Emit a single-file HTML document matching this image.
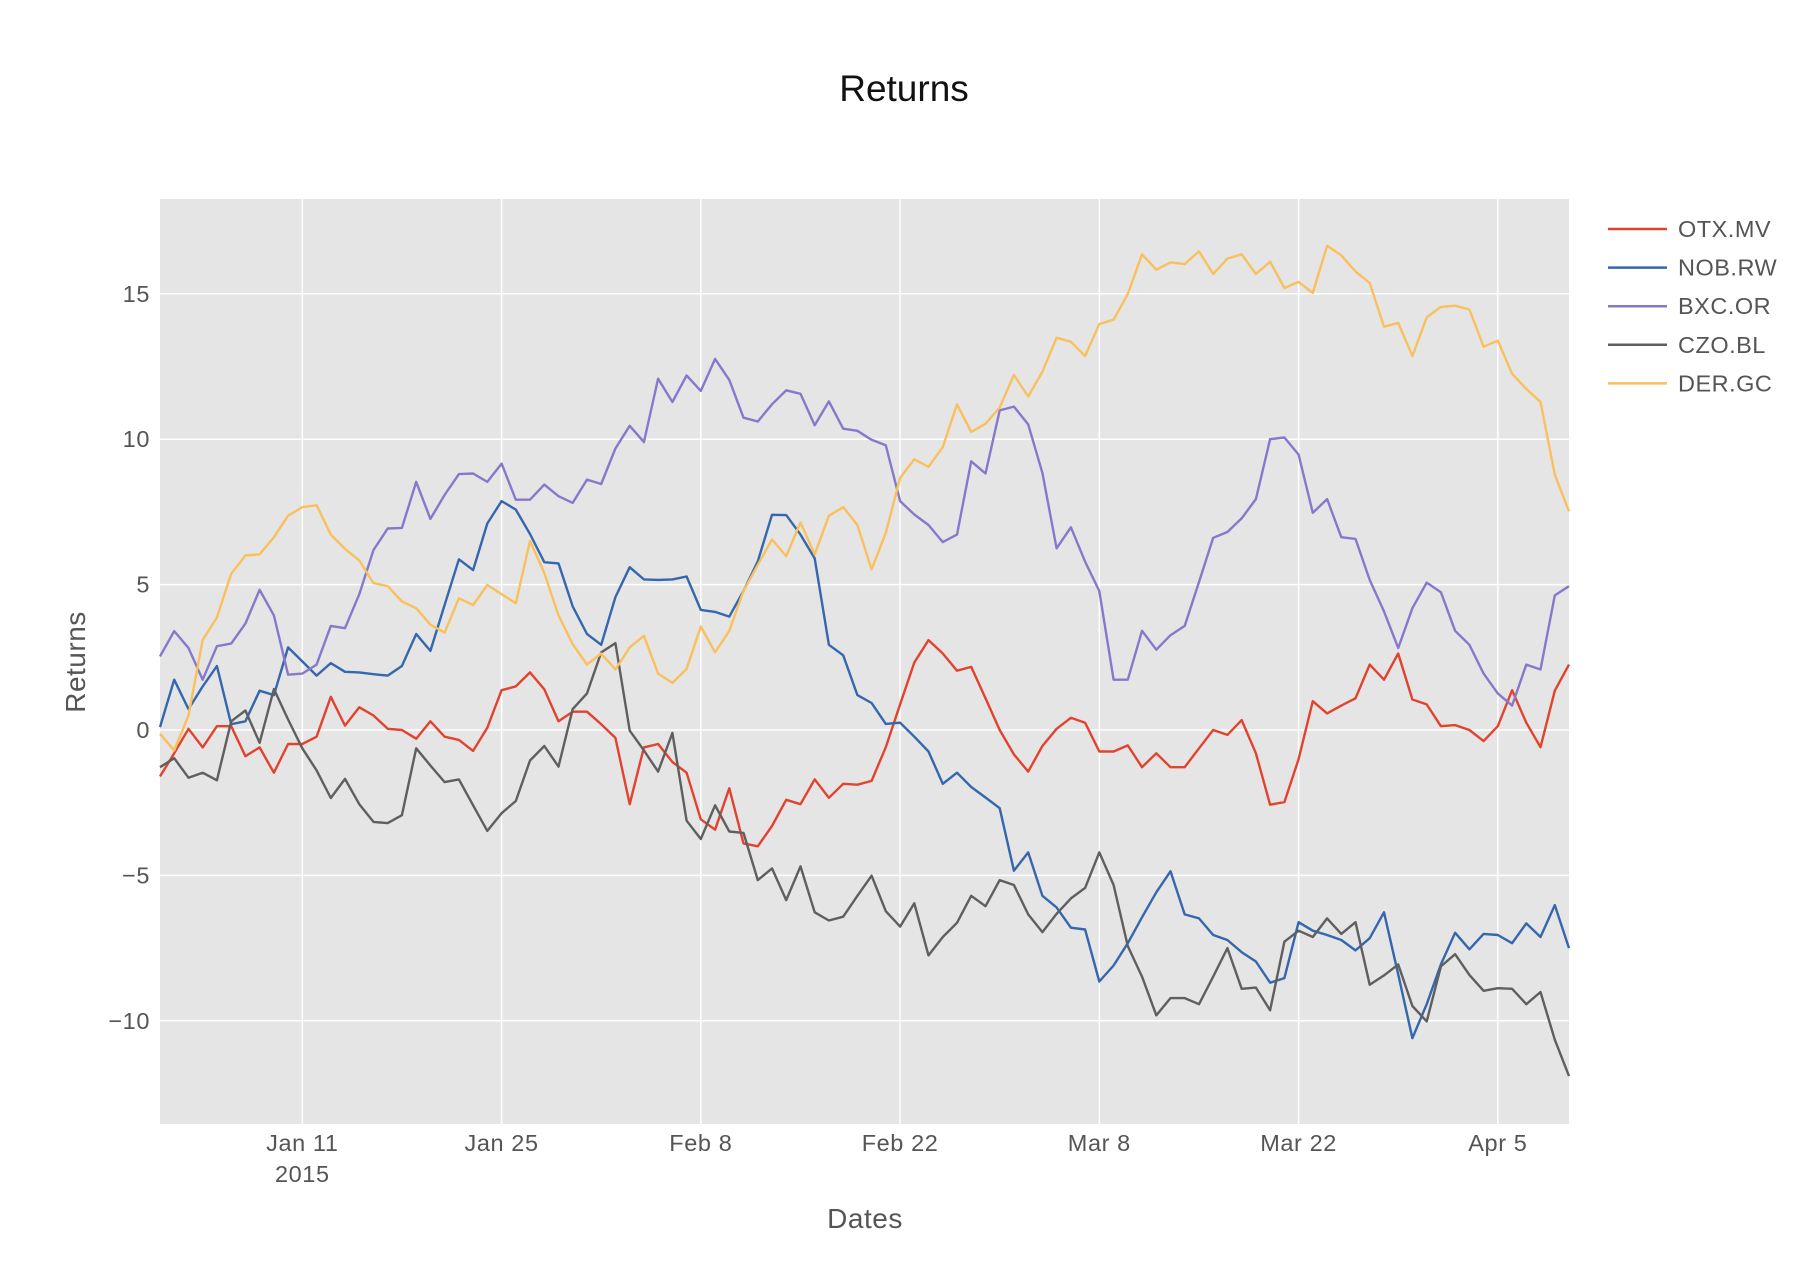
<!DOCTYPE html>
<html><head><meta charset="utf-8"><style>
html,body{margin:0;padding:0;background:#fff;}
svg{display:block;font-family:"Liberation Sans",sans-serif;}
</style></head><body>
<svg id="chart" width="1810" height="1284" viewBox="0 0 1810 1284" xmlns="http://www.w3.org/2000/svg">
<rect x="0" y="0" width="1810" height="1284" fill="#fff"/>
<text x="904" y="101" text-anchor="middle" font-size="37" fill="#111">Returns</text>
<rect x="160" y="199" width="1409" height="925" fill="#e5e5e5"/>
<g id="grid"></g>
<g id="series"></g>
<g id="axes"></g>
<text x="865" y="1228" text-anchor="middle" font-size="28" letter-spacing="0.5" fill="#555">Dates</text>
<text x="0" y="0" transform="translate(85,662) rotate(-90)" text-anchor="middle" font-size="28" letter-spacing="0.5" fill="#555">Returns</text>
<g id="legend"></g>
</svg>
<script>
const seriesNames = ["OTX.MV","NOB.RW","BXC.OR","CZO.BL","DER.GC"];
const seriesColors = ["#E1432F","#3467AD","#8679CB","#5f5f5f","#F9C05E"];
const yTicks = [-10,-5,0,5,10,15];
const yTickLabels = ["\u221210","\u22125","0","5","10","15"];
const xTickDays = [10,24,38,52,66,80,94];
const xTickLabels = ["Jan 11","Jan 25","Feb 8","Feb 22","Mar 8","Mar 22","Apr 5"];
const otx = [-1.6,-0.8,0.04,-0.6,0.13,0.13,-0.9,-0.6,-1.47,-0.48,-0.48,-0.23,1.14,0.15,0.78,0.5,0.04,0,-0.3,0.3,-0.23,-0.34,-0.72,0.08,1.37,1.5,1.98,1.4,0.3,0.63,0.63,0.2,-0.27,-2.55,-0.6,-0.48,-1.1,-1.47,-3.07,-3.43,-2.0,-3.9,-4.0,-3.3,-2.4,-2.55,-1.7,-2.33,-1.85,-1.88,-1.75,-0.59,0.88,2.32,3.09,2.63,2.04,2.17,1.09,0,-0.84,-1.43,-0.55,0.04,0.42,0.25,-0.74,-0.74,-0.53,-1.28,-0.8,-1.28,-1.28,-0.63,0,-0.17,0.34,-0.8,-2.57,-2.48,-1.0,0.99,0.57,0.84,1.09,2.25,1.73,2.63,1.05,0.88,0.13,0.17,0,-0.38,0.13,1.37,0.25,-0.59,1.35,2.25];
const nob = [0.1,1.73,0.72,1.5,2.2,0.2,0.3,1.35,1.2,2.84,2.36,1.87,2.3,2.0,1.98,1.92,1.87,2.2,3.3,2.72,4.3,5.87,5.5,7.1,7.87,7.58,6.74,5.77,5.73,4.25,3.3,2.93,4.57,5.6,5.18,5.16,5.18,5.28,4.13,4.06,3.9,4.78,5.8,7.4,7.39,6.72,5.9,2.93,2.57,1.2,0.93,0.21,0.25,-0.23,-0.74,-1.85,-1.47,-1.96,-2.32,-2.69,-4.84,-4.21,-5.7,-6.1,-6.8,-6.86,-8.65,-8.1,-7.33,-6.44,-5.58,-4.86,-6.34,-6.48,-7.05,-7.22,-7.64,-7.96,-8.69,-8.53,-6.61,-6.9,-7.05,-7.22,-7.58,-7.16,-6.27,-8.4,-10.6,-9.43,-8.06,-6.97,-7.54,-7.01,-7.05,-7.33,-6.65,-7.12,-6.02,-7.5];
const bxc = [2.53,3.4,2.82,1.73,2.88,2.97,3.66,4.82,3.94,1.9,1.94,2.25,3.58,3.5,4.67,6.19,6.93,6.95,8.53,7.26,8.08,8.8,8.82,8.53,9.16,7.92,7.92,8.44,8.04,7.81,8.61,8.46,9.68,10.46,9.9,12.08,11.28,12.19,11.66,12.76,12.04,10.74,10.61,11.2,11.68,11.56,10.48,11.3,10.36,10.29,9.98,9.79,7.87,7.41,7.05,6.46,6.72,9.24,8.82,10.99,11.12,10.51,8.84,6.25,6.97,5.79,4.78,1.73,1.73,3.41,2.76,3.26,3.58,5.09,6.61,6.81,7.28,7.94,10.0,10.06,9.47,7.47,7.94,6.63,6.57,5.16,4.08,2.82,4.19,5.07,4.74,3.41,2.93,1.94,1.26,0.84,2.25,2.08,4.63,4.95];
const czo = [-1.28,-0.97,-1.64,-1.47,-1.73,0.3,0.67,-0.44,1.41,0.36,-0.63,-1.39,-2.34,-1.68,-2.55,-3.16,-3.2,-2.93,-0.63,-1.22,-1.79,-1.7,-2.59,-3.47,-2.86,-2.44,-1.05,-0.55,-1.26,0.72,1.26,2.67,2.99,-0.02,-0.7,-1.43,-0.1,-3.12,-3.75,-2.59,-3.49,-3.54,-5.16,-4.76,-5.85,-4.69,-6.27,-6.55,-6.42,-5.7,-5.01,-6.23,-6.76,-5.96,-7.75,-7.12,-6.63,-5.7,-6.06,-5.16,-5.33,-6.34,-6.95,-6.32,-5.79,-5.43,-4.21,-5.33,-7.43,-8.48,-9.81,-9.22,-9.22,-9.43,-8.48,-7.5,-8.9,-8.86,-9.64,-7.28,-6.9,-7.12,-6.48,-7.01,-6.61,-8.76,-8.44,-8.06,-9.49,-10.02,-8.13,-7.71,-8.42,-8.97,-8.88,-8.9,-9.43,-9.01,-10.65,-11.9];
const der = [-0.13,-0.7,0.5,3.1,3.87,5.37,6.0,6.04,6.63,7.37,7.66,7.73,6.72,6.23,5.83,5.05,4.95,4.42,4.19,3.62,3.35,4.53,4.3,4.99,4.67,4.36,6.5,5.4,3.94,2.95,2.25,2.63,2.08,2.84,3.24,1.94,1.62,2.1,3.56,2.67,3.41,4.78,5.68,6.55,5.98,7.14,6.04,7.37,7.66,7.05,5.52,6.78,8.67,9.31,9.05,9.73,11.2,10.25,10.53,11.09,12.21,11.47,12.32,13.49,13.35,12.86,13.96,14.11,14.99,16.36,15.83,16.08,16.02,16.46,15.68,16.21,16.36,15.68,16.1,15.2,15.41,15.03,16.65,16.32,15.77,15.37,13.87,14.0,12.86,14.19,14.55,14.59,14.46,13.18,13.39,12.25,11.73,11.28,8.78,7.52];
const allSeries = [otx,nob,bxc,czo,der];

const NS="http://www.w3.org/2000/svg";
const PL=160, PR=1569, PT=199, PB=1124, NDAYS=99;
const Y0=730, PXU=29.08;
function xs(d){return PL+(PR-PL)*d/NDAYS;}
function ys(v){return Y0-v*PXU;}
function mk(tag,attrs,parent){const e=document.createElementNS(NS,tag);for(const k in attrs)e.setAttribute(k,attrs[k]);parent.appendChild(e);return e;}
const grid=document.getElementById('grid'), axes=document.getElementById('axes'), ser=document.getElementById('series'), leg=document.getElementById('legend');
yTicks.forEach((t,i)=>{
  const l=mk('line',{x1:PL,x2:PR,y1:ys(t),y2:ys(t),stroke:'#fff','stroke-width':1.5},grid);
  
  
  const tx=mk('text',{x:PL-10,y:ys(t)+8,'text-anchor':'end','font-size':23.5,'letter-spacing':0.6,fill:'#555'},axes);
  tx.textContent=yTickLabels[i];
  
  
});
xTickDays.forEach((d,i)=>{
  const l=mk('line',{x1:xs(d),x2:xs(d),y1:PT,y2:PB,stroke:'#fff','stroke-width':1.5},grid);
  
  
  const tx=mk('text',{x:xs(d),y:1151,'text-anchor':'middle','font-size':23.5,'letter-spacing':0.6,fill:'#555'},axes);
  tx.textContent=xTickLabels[i];
  
  
});
const yr=mk('text',{x:xs(10),y:1182,'text-anchor':'middle','font-size':23.5,'letter-spacing':0.6,fill:'#555'},axes);
yr.textContent='2015';


allSeries.forEach((vals,si)=>{
  const pts=vals.map((v,d)=>xs(d).toFixed(1)+','+ys(v).toFixed(1)).join(' ');
  const p=mk('polyline',{points:pts,fill:'none',stroke:seriesColors[si],'stroke-width':2.4,'stroke-linejoin':'round'},ser);
  
  
  const g=mk('g',{},leg);
  
  
  const ly=229+si*38.6;
  mk('line',{x1:1608,x2:1667,y1:ly,y2:ly,stroke:seriesColors[si],'stroke-width':2.5},g);
  const t=mk('text',{x:1678,y:ly+8,'font-size':23.5,'letter-spacing':0.5,fill:'#555'},g);
  t.textContent=seriesNames[si];
});
</script>
</body></html>
